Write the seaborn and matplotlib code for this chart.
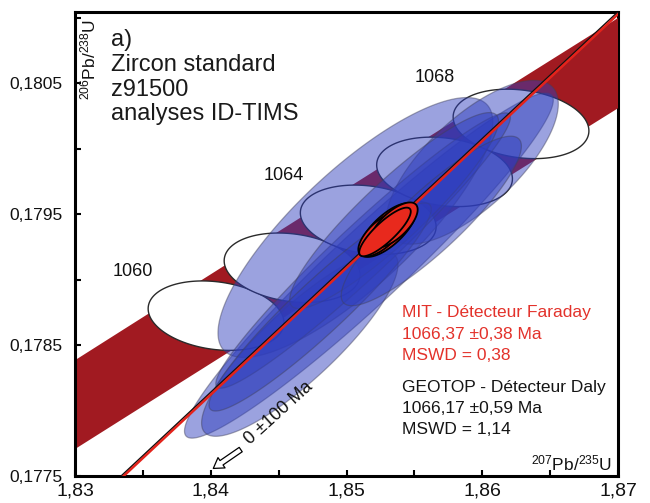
import numpy as np
import pandas as pd
import matplotlib
matplotlib.use("Agg")
import matplotlib.pyplot as plt
import seaborn as sns
from matplotlib.ticker import MultipleLocator, FuncFormatter

# Decay constants (1/yr) and the 2-sigma lambda-235 spread used for the concordia band
LAMBDA_238 = 1.55125e-10
LAMBDA_235 = 9.8485e-10
LAMBDA_235_ERR = 1.73e-12

# Concordia age markers (Ma)
marker_ages = [1060, 1062, 1064, 1066, 1068]
labelled_ages = [1060, 1064, 1068]
marker_err_x = 0.0050
marker_err_y = 0.000265
marker_rho = -0.2

# GEOTOP (Daly detector) analyses: 207Pb/235U, 206Pb/238U, 2s errors, error correlation
geotop_x = [1.851650, 1.850656, 1.859260, 1.846560, 1.851223, 1.853507, 1.848055, 1.856247]
geotop_y = [0.179106, 0.179397, 0.179895, 0.178509, 0.179221, 0.179526, 0.178790, 0.179447]
geotop_ex = [0.013584, 0.010122, 0.006343, 0.007234, 0.010851, 0.007691, 0.008184, 0.006637]
geotop_ey = [0.001317, 0.000992, 0.000625, 0.000706, 0.001051, 0.000748, 0.000794, 0.000647]
geotop_rho = [0.9592, 0.8110, 0.7122, 0.8564, 0.9665, 0.9112, 0.9416, 0.8819]

# MIT (Faraday detector) analyses
mit_x = [1.853057, 1.852615, 1.853499, 1.853057, 1.852836]
mit_y = [0.179378, 0.179347, 0.179416, 0.179385, 0.179363]
mit_ex = [0.002080, 0.001743, 0.001743, 0.001369, 0.001898]
mit_ey = [0.0002053, 0.0001722, 0.0001722, 0.0001347, 0.0001856]
mit_rho = [0.7033, 0.6827, 0.6827, 0.7526, 0.8402]

# Regression results: upper intercepts (Ma), common lower intercept (Ma)
mit_age = 1066.37
geotop_age = 1066.17
lower_intercept = 0.0

x_ticks = [1.83, 1.84, 1.85, 1.86, 1.87]
y_ticks = [0.1775, 0.1785, 0.1795, 0.1805]

W, H = 650, 503

sns.set_theme(style="white")
plt.rcParams["font.family"] = ["Liberation Sans", "DejaVu Sans"]
plt.rcParams["mathtext.fontset"] = "custom"
plt.rcParams["mathtext.rm"] = "Liberation Sans"


def concordia(t_ma, l235=LAMBDA_235):
    t = np.asarray(t_ma, dtype=float) * 1e6
    return np.expm1(l235 * t), np.expm1(LAMBDA_238 * t)


def ellipse_xy(cx, cy, ex, ey, rho, n=240):
    th = np.linspace(0, 2 * np.pi, n)
    x = cx + ex * np.cos(th)
    y = cy + ey * (rho * np.cos(th) + np.sqrt(1 - rho ** 2) * np.sin(th))
    return x, y


def px(xp, yp):
    return xp / W, 1 - yp / H


fig = plt.figure(figsize=(W / 100, H / 100), dpi=100)
ax = fig.add_axes([75 / W, 1 - 476 / H, (618 - 75) / W, (476 - 12) / H])
ax.set_facecolor("white")
ax.set_xlim(1.83, 1.87)
ax.set_ylim(0.1775, 0.1775 + 464 / 131000)

# Concordia band (decay-constant uncertainty)
ages = np.linspace(1000, 1120, 400)
x_lo, yc = concordia(ages, LAMBDA_235 - LAMBDA_235_ERR)
x_hi, _ = concordia(ages, LAMBDA_235 + LAMBDA_235_ERR)
ax.fill(np.r_[x_hi, x_lo[::-1]], np.r_[yc, yc[::-1]], color="#a11a21", lw=0, zorder=1)

# Age markers on the concordia
mx, my = concordia(marker_ages)
for cx, cy in zip(mx, my):
    ex_, ey_ = ellipse_xy(cx, cy, marker_err_x, marker_err_y, marker_rho)
    ax.fill(ex_, ey_, facecolor="white", edgecolor="#2a2a2a", lw=1.0, zorder=2)

# GEOTOP ellipses (translucent blue)
for cx, cy, sx, sy, r in zip(geotop_x, geotop_y, geotop_ex, geotop_ey, geotop_rho):
    ex_, ey_ = ellipse_xy(cx, cy, sx, sy, r)
    ax.fill(ex_, ey_, facecolor=(0.18, 0.24, 0.74, 0.48),
            edgecolor=(0.25, 0.25, 0.35, 0.45), lw=0.9, zorder=3)

# Discordia lines through the lower and upper intercepts
line_x = np.array([1.82, 1.88])
lines = []
for name, age in [("GEOTOP", geotop_age), ("MIT", mit_age)]:
    x0, y0 = concordia(lower_intercept)
    x1, y1 = concordia(age)
    yy = y0 + (line_x - x0) * (y1 - y0) / (x1 - x0)
    lines.append(pd.DataFrame({"x": line_x, "y": yy, "lab": name}))
df_lines = pd.concat(lines)
sns.lineplot(data=df_lines[df_lines.lab == "GEOTOP"], x="x", y="y", color="#111111",
             lw=1.1, ax=ax, zorder=4, legend=False)
sns.lineplot(data=df_lines[df_lines.lab == "MIT"], x="x", y="y", color="#e3231b",
             lw=1.8, ax=ax, zorder=4.5, legend=False)

# MIT ellipses (red)
for cx, cy, sx, sy, r in zip(mit_x, mit_y, mit_ex, mit_ey, mit_rho):
    ex_, ey_ = ellipse_xy(cx, cy, sx, sy, r)
    ax.fill(ex_, ey_, facecolor="#e8291d", edgecolor="black", lw=1.3, zorder=5)

# Axes styling
ax.xaxis.set_minor_locator(MultipleLocator(0.005))
ax.yaxis.set_minor_locator(MultipleLocator(0.0005))
ax.set_xticks(x_ticks)
ax.set_yticks(y_ticks)
ax.xaxis.set_major_formatter(FuncFormatter(lambda v, p: f"{v:.2f}".replace(".", ",")))
ax.yaxis.set_major_formatter(FuncFormatter(lambda v, p: f"{v:.4f}".replace(".", ",")))
ax.tick_params(which="both", direction="in", length=4, width=1.5, color="black",
               left=True, bottom=True, top=False, right=False)
ax.tick_params(axis="x", labelsize=14, pad=5, labelcolor="#111111")
ax.tick_params(axis="y", labelsize=12.5, pad=9, labelcolor="#111111")
ax.set_xlabel("")
ax.set_ylabel("")
for s in ax.spines.values():
    s.set_color("black")
    s.set_linewidth(2.2)
ax.spines["right"].set_zorder(0.5)

# Axis titles inside the frame
fig.text(*px(612, 470), r"$\mathregular{^{207}Pb/^{235}U}$", fontsize=12.5,
         ha="right", va="baseline", color="#111111")
fig.text(*px(88, 19), r"$\mathregular{^{206}Pb/^{238}U}$", fontsize=12.5,
         ha="center", va="top", rotation=90, color="#111111")

# Panel title
for yb, txt in zip([46, 71, 96, 120], ["a)", "Zircon standard", "z91500", "analyses ID-TIMS"]):
    fig.text(*px(111, yb), txt, fontsize=17, ha="left", va="baseline", color="#1a1a1a")

# Concordia age labels
age_label_pos = {1060: (133, 272), 1064: (284, 175), 1068: (435, 78)}
for a in labelled_ages:
    fig.text(*px(*age_label_pos[a]), str(a), fontsize=13, ha="center", va="center",
             color="#111111")

# Results
red_txt = ["MIT - Détecteur Faraday", f"{mit_age:.2f} ±0,38 Ma".replace(".", ","), "MSWD = 0,38"]
blk_txt = ["GEOTOP - Détecteur Daly", f"{geotop_age:.2f} ±0,59 Ma".replace(".", ","), "MSWD = 1,14"]
for yb, txt in zip([317, 339, 360], red_txt):
    fig.text(*px(402, yb), txt, fontsize=12.5, color="#e3322b", va="baseline")
for yb, txt in zip([392, 413, 434], blk_txt):
    fig.text(*px(402, yb), txt, fontsize=12.5, color="#151515", va="baseline")

# Lower-intercept arrow and label
tail = (1.83 + (243 - 75) / 13575, 0.1775 + (476 - 448) / 131000)
tip = (1.83 + (211 - 75) / 13575, 0.1775 + (476 - 470) / 131000)
ax.annotate("", xy=tip, xytext=tail, zorder=6,
            arrowprops=dict(arrowstyle="simple,head_length=0.6,head_width=0.75,tail_width=0.32",
                            fc="white", ec="black", lw=0.9))
fig.text(*px(279, 413), "0 ±100 Ma", fontsize=13, rotation=42, ha="center", va="center",
         color="#111111", rotation_mode="anchor")

fig.savefig("out.png", dpi=100, facecolor="white")
